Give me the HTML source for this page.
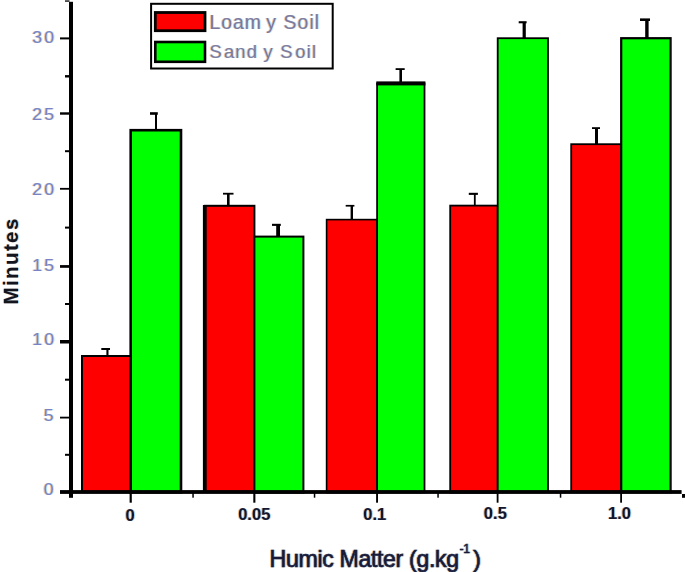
<!DOCTYPE html>
<html>
<head>
<meta charset="utf-8">
<title>Humic Matter chart</title>
<style>
html,body{margin:0;padding:0;background:#fff;}
body{width:685px;height:572px;overflow:hidden;position:relative;}
svg{position:absolute;left:0;top:0;display:block;filter:blur(0.45px);}
text{font-family:"Liberation Sans",sans-serif;}
.yt{font-size:16.2px;fill:#7a82c6;stroke:none;}
.xt{font-size:16.6px;font-weight:bold;fill:#15152e;}
.lg{font-size:19.5px;fill:#7d789f;stroke:none;}
</style>
</head>
<body>
<svg width="685" height="572" viewBox="0 0 685 572">
<rect x="0" y="0" width="685" height="572" fill="#ffffff"/>
<defs>
<filter id="fr" x="-5%" y="-5%" width="110%" height="110%" color-interpolation-filters="sRGB">
<feOffset in="SourceAlpha" dx="-0.75" dy="0" result="l"/>
<feFlood flood-color="#f1b27a" flood-opacity="0.75"/><feComposite in2="l" operator="in" result="lo"/>
<feOffset in="SourceAlpha" dx="0.75" dy="0" result="r"/>
<feFlood flood-color="#96dcff" flood-opacity="0.75"/><feComposite in2="r" operator="in" result="ro"/>
<feMerge><feMergeNode in="lo"/><feMergeNode in="ro"/><feMergeNode in="SourceGraphic"/></feMerge>
</filter>
<filter id="fr2" x="-5%" y="-5%" width="110%" height="110%" color-interpolation-filters="sRGB">
<feOffset in="SourceAlpha" dx="-0.7" dy="0" result="l"/>
<feFlood flood-color="#e9a35e" flood-opacity="0.8"/><feComposite in2="l" operator="in" result="lo"/>
<feOffset in="SourceAlpha" dx="0.7" dy="0" result="r"/>
<feFlood flood-color="#7cc4f4" flood-opacity="0.8"/><feComposite in2="r" operator="in" result="ro"/>
<feMerge><feMergeNode in="lo"/><feMergeNode in="ro"/><feMergeNode in="SourceGraphic"/></feMerge>
</filter>
</defs>

<!-- bars -->
<g stroke="#000" stroke-width="2">
<rect x="82" y="356" width="49" height="136" fill="#ff0000"/>
<rect x="130.7" y="130.2" width="50.3" height="362" fill="#00ff00" stroke-width="2.6"/>

<rect x="204.8" y="205.8" width="49.6" height="286" fill="#ff0000"/>
<rect x="254.4" y="236.6" width="49" height="256" fill="#00ff00"/>

<rect x="326.6" y="219.6" width="50.5" height="273" fill="#ff0000" stroke-width="1.6"/>
<rect x="377.1" y="83.4" width="47.4" height="409" fill="#00ff00" stroke-width="1.8"/>

<rect x="450.2" y="205.6" width="47.5" height="287" fill="#ff0000" stroke-width="1.8"/>
<rect x="497.7" y="38.2" width="50.3" height="454" fill="#00ff00" stroke-width="1.8"/>

<rect x="571.2" y="144.2" width="50" height="348" fill="#ff0000" stroke-width="1.8"/>
<rect x="621.2" y="38.2" width="49.4" height="454" fill="#00ff00" stroke-width="2.2"/>
</g>
<!-- thick borders -->
<rect x="202.9" y="205" width="3.8" height="287" fill="#000"/>
<rect x="376.3" y="81.4" width="49.1" height="4" fill="#000"/>

<!-- error bars -->
<g fill="#000">
<rect x="106.4" y="349" width="2.1" height="7"/><rect x="101.3" y="348" width="8.7" height="2"/>
<rect x="155" y="113" width="2" height="17"/><rect x="150" y="112.2" width="7.8" height="2.6"/>
<rect x="227" y="193.5" width="2.6" height="12"/><rect x="223" y="192.8" width="10.5" height="1.8"/>
<rect x="276.2" y="224.5" width="3.8" height="12"/><rect x="272" y="223.8" width="8.8" height="2.1"/>
<rect x="350.6" y="205.5" width="2.4" height="14"/><rect x="345.7" y="204.9" width="8.7" height="1.7"/>
<rect x="399.4" y="69" width="2.6" height="13"/><rect x="395.6" y="68.2" width="9.1" height="1.8"/>
<rect x="473.9" y="194" width="1.8" height="11.5"/><rect x="468.8" y="192.8" width="9.1" height="2.1"/>
<rect x="522.6" y="22" width="3.2" height="16"/><rect x="518.7" y="21.2" width="7.9" height="2.1"/>
<rect x="595" y="128" width="3" height="16"/><rect x="592" y="127.2" width="8" height="1.8"/>
<rect x="645.2" y="19.5" width="3.4" height="18.5"/><rect x="640" y="18.4" width="10" height="2.6"/>
</g>

<!-- axes -->
<g fill="#000">
<rect x="69" y="1.8" width="4" height="496"/>
<rect x="60" y="490.1" width="621.6" height="3.8"/>
<rect x="65" y="0.4" width="4.5" height="1.3"/>
<rect x="682" y="494" width="3" height="3.8"/>
<!-- y major ticks -->
<rect x="60" y="37.4" width="9.5" height="2"/>
<rect x="60" y="112.3" width="9.5" height="2.4"/>
<rect x="60" y="187.9" width="9.5" height="1.8"/>
<rect x="60" y="265.1" width="9.5" height="2.7"/>
<rect x="60" y="340" width="9.5" height="3.5"/>
<rect x="60" y="416.7" width="9.5" height="1.8"/>
<!-- y minor ticks -->
<rect x="65" y="75.1" width="4.5" height="2.4"/>
<rect x="65" y="150.2" width="4.5" height="2"/>
<rect x="65" y="226.6" width="4.5" height="2"/>
<rect x="65" y="303" width="4.5" height="2"/>
<rect x="65" y="378.7" width="4.5" height="2"/>
<rect x="65" y="453.8" width="4.5" height="2"/>
<!-- x major ticks -->
<rect x="129.6" y="493" width="2.2" height="9.7"/>
<rect x="253.3" y="493" width="2.1" height="9.7"/>
<rect x="376.1" y="493" width="1.9" height="9.7"/>
<rect x="496.7" y="493" width="1.8" height="9.7"/>
<rect x="620.2" y="493" width="1.8" height="9.7"/>
<!-- x minor ticks -->
<rect x="192.3" y="493" width="1.5" height="4.7"/>
<rect x="313.8" y="493" width="1.5" height="4.7"/>
<rect x="437.3" y="493" width="1.5" height="4.7"/>
<rect x="559.8" y="493" width="1.5" height="4.7"/>
</g>

<!-- y tick labels -->
<g class="yt" filter="url(#fr)">
<text transform="translate(32.2,43.1) scale(1.1,1)" textLength="19.9" lengthAdjust="spacing">30</text>
<text transform="translate(32.2,119.9) scale(1.1,1)" textLength="19.9" lengthAdjust="spacing">25</text>
<text transform="translate(32.2,194.7) scale(1.1,1)" textLength="19.9" lengthAdjust="spacing">20</text>
<text transform="translate(32.2,270.6) scale(1.1,1)" textLength="19.9" lengthAdjust="spacing">15</text>
<text transform="translate(32.2,344.7) scale(1.1,1)" textLength="19.9" lengthAdjust="spacing">10</text>
<text transform="translate(43.8,420.7) scale(1.1,1)">5</text>
<text transform="translate(43.8,495.3) scale(1.1,1)">0</text>
</g>

<!-- x tick labels -->
<g class="xt" text-anchor="middle" filter="url(#fr2)">
<text x="130" y="521.4">0</text>
<text x="254.3" y="520">0.05</text>
<text x="374.7" y="520.2">0.1</text>
<text x="495.4" y="518.9">0.5</text>
<text x="619.5" y="518.5">1.0</text>
</g>

<!-- axis titles -->
<g filter="url(#fr2)"><g transform="translate(0,566.8) scale(1,1.05)" font-size="23.2" fill="#1a1a38" stroke="#1a1a38" stroke-width="0.6">
<text x="269.6" y="0" textLength="189.5" lengthAdjust="spacing">Humic Matter (g.kg</text>
<text x="459.8" y="-13.3" font-size="11.5" stroke-width="0.5">-1</text>
<text x="473.2" y="0">)</text>
</g></g>
<g filter="url(#fr2)"><text transform="translate(18.4,304.6) rotate(-90)" font-size="20.6" font-weight="bold" fill="#15151f" textLength="86" lengthAdjust="spacing">Minutes</text></g>

<!-- legend -->
<rect x="151.1" y="3.8" width="181.6" height="64.7" fill="#fff" stroke="#000" stroke-width="2"/>
<rect x="155.3" y="12.5" width="49.7" height="18.2" fill="#ff0000" stroke="#000" stroke-width="2.8"/>
<rect x="155.3" y="42" width="49.7" height="19.8" fill="#00ff00" stroke="#000" stroke-width="2.6"/>
<g filter="url(#fr)"><text class="lg" y="28.7"><tspan x="209.6" textLength="51.5" lengthAdjust="spacing">Loam</tspan><tspan x="266.2">y</tspan><tspan x="283.6" textLength="35.5" lengthAdjust="spacing">Soil</tspan></text>
<text class="lg" y="58" style="font-size:18.5px"><tspan x="209.6">S</tspan><tspan x="224" textLength="33" lengthAdjust="spacing">and</tspan><tspan x="263.4">y</tspan><tspan x="280.2">S</tspan><tspan x="295.2" textLength="21" lengthAdjust="spacing">oil</tspan></text></g>
</svg>
</body>
</html>
